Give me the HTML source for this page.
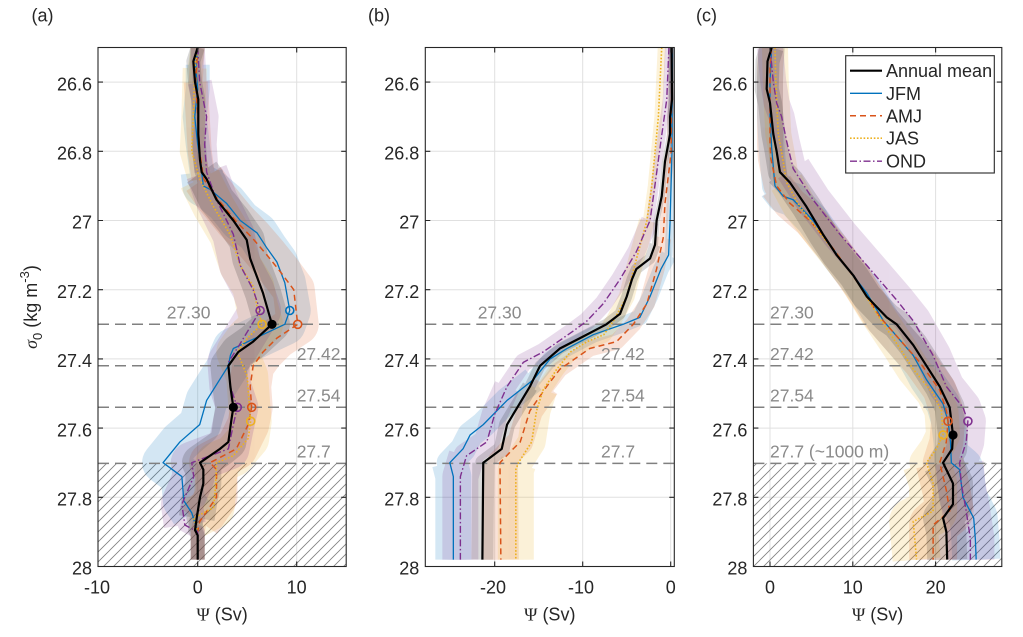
<!DOCTYPE html>
<html><head><meta charset="utf-8"><style>
html,body{margin:0;padding:0;background:#fff;}
svg{display:block;}
.ns{vector-effect:non-scaling-stroke;fill:none;stroke-linejoin:round;}
text{font-family:"Liberation Sans",Arial,sans-serif;fill:#262626;}
</style></head><body>
<svg width="1023" height="637" viewBox="0 0 1023 637" xmlns="http://www.w3.org/2000/svg">
<defs>
<pattern id="hatch" patternUnits="userSpaceOnUse" width="10" height="10">
<path d="M0,10 L10,0 M-2,2 L2,-2 M8,12 L12,8" stroke="#808080" stroke-width="0.8"/>
</pattern>
<clipPath id="ca"><rect x="98" y="47.5" width="248.2" height="519"/></clipPath>
<clipPath id="cb"><rect x="425.3" y="47.5" width="249" height="519"/></clipPath>
<clipPath id="cc"><rect x="753.4" y="47.5" width="248.4" height="519"/></clipPath>
</defs>
<rect width="1023" height="637" fill="#fff"/>

<!-- GRID -->
<g stroke="#e0e0e0" stroke-width="1">
<path d="M98,82.1H346.2M98,151.3H346.2M98,220.5H346.2M98,289.7H346.2M98,358.9H346.2M98,428.1H346.2M98,497.3H346.2M197.7,47.5V566.5M296.7,47.5V566.5"/>
<path d="M425.3,82.1H674.3M425.3,151.3H674.3M425.3,220.5H674.3M425.3,289.7H674.3M425.3,358.9H674.3M425.3,428.1H674.3M425.3,497.3H674.3M494.7,47.5V566.5M582.7,47.5V566.5M670.7,47.5V566.5"/>
<path d="M753.4,82.1H1001.8M753.4,151.3H1001.8M753.4,220.5H1001.8M753.4,289.7H1001.8M753.4,358.9H1001.8M753.4,428.1H1001.8M753.4,497.3H1001.8M770,47.5V566.5M852.8,47.5V566.5M935.6,47.5V566.5"/>
</g>

<!-- HATCH -->
<rect x="98" y="463.4" width="248.2" height="103.1" fill="url(#hatch)"/>
<rect x="753.4" y="463.4" width="248.4" height="103.1" fill="url(#hatch)"/>

<!-- ===== PANEL A ===== -->
<g clip-path="url(#ca)">
<g transform="matrix(9.9,0,0,346,197.7,-9121.5)">
<g opacity="0.17">
<path class="ns" stroke="#0072BD" stroke-width="14" d="M0,26.5 L-0.2,26.56 L0,26.62 L-0.3,26.7 L0,26.78 L0.4,26.86 L0.57,26.9 L1.24,26.91 L2.9,26.95 L4.3,27 L6,27.036 L7,27.08 L8,27.12 L8.8,27.18 L9.3,27.26 L8.8,27.3 L3.6,27.37 L3.3,27.39 L3.1,27.42 L0.9,27.52 L0.2,27.59 L-1.8,27.64 L-3.5,27.7 L-1.6,27.74 L-1.4,27.81 L-0.6,27.845 L0,27.9 L0,27.98"/>
<path class="ns" stroke="#0072BD" stroke-width="24" d="M0,26.55 L0,26.62 L-0.3,26.7 L0,26.78 L0.4,26.86"/>
<path class="ns" stroke="#0072BD" stroke-width="42" d="M0.4,26.86 L0.57,26.9 L1.24,26.91 L2.9,26.95 L4.3,27 L6,27.036 L7,27.08 L8,27.12 L8.8,27.18 L9.3,27.26 L8.8,27.3 L3.6,27.37 L3.3,27.39 L3.1,27.42 L0.9,27.52 L0.2,27.59 L-1.8,27.64 L-3.5,27.7 L-1.6,27.74 L-1.4,27.81 L-0.6,27.845"/>
</g>
<g opacity="0.17">
<path class="ns" stroke="#D95319" stroke-width="14" d="M0,26.5 L-0.2,26.6 L0,26.7 L0.2,26.8 L0.6,26.88 L1.8,26.93 L3.8,27 L5.5,27.05 L7,27.1 L8.4,27.15 L9.7,27.2 L10.1,27.3 L8,27.34 L6.6,27.38 L5.6,27.42 L5.3,27.48 L5.45,27.54 L5.1,27.59 L3.9,27.66 L1.25,27.7 L1.9,27.72 L1.9,27.8 L0.2,27.87 L0,27.9 L0,27.98"/>
<path class="ns" stroke="#D95319" stroke-width="24" d="M-0.2,26.6 L0,26.7 L0.2,26.8 L0.6,26.88"/>
<path class="ns" stroke="#D95319" stroke-width="42" d="M0.6,26.88 L1.8,26.93 L3.8,27 L5.5,27.05 L7,27.1 L8.4,27.15 L9.7,27.2 L10.1,27.3 L8,27.34 L6.6,27.38 L5.6,27.42 L5.3,27.48 L5.45,27.54 L5.1,27.59 L3.9,27.66 L1.25,27.7 L1.9,27.72 L1.9,27.8 L0.2,27.87"/>
</g>
<g opacity="0.17">
<path class="ns" stroke="#EDB120" stroke-width="14" d="M0,26.5 L-0.3,26.56 L-0.44,26.7 L-0.6,26.8 L0.2,26.88 L1.6,26.96 L3.26,27.04 L4.3,27.13 L5.6,27.19 L6,27.25 L6.5,27.3 L5,27.34 L4,27.38 L5,27.45 L5.2,27.53 L5.35,27.58 L5.1,27.63 L3.6,27.68 L1.9,27.7 L1.8,27.77 L1.6,27.83 L-0.4,27.86 L0,27.9 L0,27.98"/>
<path class="ns" stroke="#EDB120" stroke-width="24" d="M-0.3,26.56 L-0.44,26.7 L-0.6,26.8 L0.2,26.88"/>
<path class="ns" stroke="#EDB120" stroke-width="42" d="M0.2,26.88 L1.6,26.96 L3.26,27.04 L4.3,27.13 L5.6,27.19 L6,27.25 L6.5,27.3 L5,27.34 L4,27.38 L5,27.45 L5.2,27.53 L5.35,27.58 L5.1,27.63 L3.6,27.68 L1.9,27.7 L1.8,27.77 L1.6,27.83 L-0.4,27.86"/>
</g>
<g opacity="0.17">
<path class="ns" stroke="#7E2F8E" stroke-width="14" d="M0,26.5 L0.2,26.6 L0.9,26.7 L0.7,26.78 L0.9,26.86 L1.9,26.94 L3.6,27.04 L4.3,27.13 L5.6,27.2 L6.3,27.26 L5.9,27.28 L4.2,27.36 L3.1,27.41 L3.3,27.48 L4,27.54 L3.6,27.59 L3.1,27.66 L-0.6,27.7 L-0.4,27.74 L-1.6,27.82 L-1.3,27.88 L0,27.9 L0,27.98"/>
<path class="ns" stroke="#7E2F8E" stroke-width="24" d="M0.2,26.6 L0.9,26.7 L0.7,26.78 L0.9,26.86"/>
<path class="ns" stroke="#7E2F8E" stroke-width="42" d="M0.9,26.86 L1.9,26.94 L3.6,27.04 L4.3,27.13 L5.6,27.2 L6.3,27.26 L5.9,27.28 L4.2,27.36 L3.1,27.41 L3.3,27.48 L4,27.54 L3.6,27.59 L3.1,27.66 L-0.6,27.7 L-0.4,27.74 L-1.6,27.82 L-1.3,27.88"/>
</g>
<g opacity="0.15">
<path class="ns" stroke="#000" stroke-width="14" d="M0,26.5 L-0.44,26.54 L-0.27,26.6 L0.06,26.65 L0.06,26.75 L0.23,26.825 L0.4,26.86 L0.9,26.88 L1.9,26.94 L3.6,27 L4.95,27.056 L5.3,27.11 L5.95,27.16 L6.6,27.21 L7.3,27.28 L7.5,27.3 L5.6,27.35 L4.1,27.38 L3.1,27.42 L3.3,27.48 L3.6,27.54 L3.4,27.577 L3.1,27.64 L2.25,27.66 L0.23,27.7 L0.57,27.72 L0.57,27.76 L0.23,27.8 L-0.1,27.86 L-0.27,27.895 L0,27.91 L0,27.98"/>
<path class="ns" stroke="#000" stroke-width="36" d="M0.4,26.86 L0.9,26.88 L1.9,26.94 L3.6,27 L4.95,27.056 L5.3,27.11 L5.95,27.16 L6.6,27.21 L7.3,27.28 L7.5,27.3 L5.6,27.35 L4.1,27.38 L3.1,27.42 L3.3,27.48 L3.6,27.54 L3.4,27.577 L3.1,27.64 L2.25,27.66 L0.23,27.7 L0.57,27.72 L0.57,27.76 L0.23,27.8 L-0.1,27.86"/>
</g>
</g>
</g>

<!-- ===== PANEL B bands ===== -->
<g clip-path="url(#cb)">
<g transform="matrix(8.8,0,0,346,670.7,-9121.5)">
<g opacity="0.17">
<path class="ns" stroke="#0072BD" stroke-width="8" d="M0.2,26.5 L0.15,26.8 L-0.07,27 L-0.24,27.1 L-1.1,27.14 L-2.35,27.22 L-3.5,27.28 L-5.4,27.3 L-8.8,27.33 L-11.8,27.37 L-13.7,27.4 L-15.6,27.46 L-18.6,27.52 L-21.3,27.59 L-22.8,27.62 L-23.6,27.66 L-25.1,27.7 L-24.7,27.74 L-24.7,27.98"/>
<path class="ns" stroke="#0072BD" stroke-width="16" d="M-0.24,27.1 L-1.1,27.14 L-2.35,27.22 L-3.5,27.28 L-5.4,27.3 L-8.8,27.33 L-11.8,27.37 L-13.7,27.4 L-15.6,27.46 L-18.6,27.52 L-21.3,27.59 L-22.8,27.62 L-23.6,27.66 L-25.1,27.7 L-24.7,27.74 L-24.7,27.98"/>
<path class="ns" stroke="#0072BD" stroke-width="26" d="M-15.6,27.46 L-18.6,27.52 L-21.3,27.59 L-22.8,27.62 L-23.6,27.66 L-25.1,27.7 L-24.7,27.74 L-24.7,27.98"/>
<path class="ns" stroke="#0072BD" stroke-width="36" d="M-25.1,27.7 L-24.7,27.74 L-24.7,27.98"/>
</g>
<g opacity="0.17">
<path class="ns" stroke="#D95319" stroke-width="8" d="M0.15,26.5 L0.05,26.8 L-0.07,26.83 L-0.65,26.95 L-0.85,27.05 L-1.6,27.14 L-2.7,27.24 L-4.25,27.3 L-6.15,27.35 L-9.2,27.37 L-12.6,27.43 L-14.1,27.48 L-16,27.55 L-17.1,27.64 L-17.9,27.66 L-19.4,27.7 L-19.3,27.98"/>
<path class="ns" stroke="#D95319" stroke-width="16" d="M-0.85,27.05 L-1.6,27.14 L-2.7,27.24 L-4.25,27.3 L-6.15,27.35 L-9.2,27.37 L-12.6,27.43 L-14.1,27.48 L-16,27.55 L-17.1,27.64 L-17.9,27.66 L-19.4,27.7 L-19.3,27.98"/>
<path class="ns" stroke="#D95319" stroke-width="26" d="M-14.1,27.48 L-16,27.55 L-17.1,27.64 L-17.9,27.66 L-19.4,27.7 L-19.3,27.98"/>
<path class="ns" stroke="#D95319" stroke-width="36" d="M-19.4,27.7 L-19.3,27.98"/>
</g>
<g opacity="0.17">
<path class="ns" stroke="#EDB120" stroke-width="8" d="M-1.02,26.5 L-1.4,26.7 L-2.15,26.9 L-2.7,27 L-4.2,27.14 L-5,27.22 L-6.5,27.29 L-7.6,27.33 L-9.5,27.35 L-11.4,27.38 L-12.95,27.43 L-14.5,27.49 L-15.25,27.55 L-15.8,27.64 L-17.3,27.7 L-17.6,27.72 L-17.6,27.98"/>
<path class="ns" stroke="#EDB120" stroke-width="16" d="M-2.7,27 L-4.2,27.14 L-5,27.22 L-6.5,27.29 L-7.6,27.33 L-9.5,27.35 L-11.4,27.38 L-12.95,27.43 L-14.5,27.49 L-15.25,27.55 L-15.8,27.64 L-17.3,27.7 L-17.6,27.72 L-17.6,27.98"/>
<path class="ns" stroke="#EDB120" stroke-width="28" d="M-14.5,27.49 L-15.25,27.55 L-15.8,27.64 L-17.3,27.7 L-17.6,27.72 L-17.6,27.98"/>
<path class="ns" stroke="#EDB120" stroke-width="36" d="M-17.3,27.7 L-17.6,27.72 L-17.6,27.98"/>
</g>
<g opacity="0.17">
<path class="ns" stroke="#7E2F8E" stroke-width="8" d="M-0.2,26.5 L-0.45,26.65 L-1,26.75 L-1.8,26.9 L-2.35,27 L-3.9,27.09 L-5.76,27.17 L-7.65,27.24 L-9.5,27.29 L-11.1,27.32 L-14.5,27.38 L-16.75,27.41 L-18.6,27.48 L-20,27.56 L-20.9,27.64 L-23.2,27.68 L-23.9,27.74 L-23.9,27.98"/>
<path class="ns" stroke="#7E2F8E" stroke-width="18" d="M-2.35,27 L-3.9,27.09 L-5.76,27.17 L-7.65,27.24 L-9.5,27.29 L-11.1,27.32 L-14.5,27.38 L-16.75,27.41 L-18.6,27.48 L-20,27.56 L-20.9,27.64 L-23.2,27.68 L-23.9,27.74 L-23.9,27.98"/>
<path class="ns" stroke="#7E2F8E" stroke-width="26" d="M-18.6,27.48 L-20,27.56 L-20.9,27.64 L-23.2,27.68 L-23.9,27.74 L-23.9,27.98"/>
<path class="ns" stroke="#7E2F8E" stroke-width="36" d="M-23.2,27.68 L-23.9,27.74 L-23.9,27.98"/>
</g>
<g opacity="0.15">
<path class="ns" stroke="#000" stroke-width="6" d="M0.1,26.5 L0.15,26.65 L-0.07,26.7 L-0.07,26.75 L-0.65,26.83 L-1.02,26.93 L-1.6,27 L-1.78,27.07 L-2.35,27.11 L-3.9,27.14 L-4.4,27.17 L-5,27.22 L-5.76,27.27 L-7.3,27.3 L-10.3,27.34 L-12.6,27.37 L-14.85,27.42 L-16,27.48 L-17.9,27.56 L-18.6,27.59 L-19.2,27.66 L-21.3,27.7 L-21.4,27.98"/>
<path class="ns" stroke="#000" stroke-width="11" d="M-1.78,27.07 L-2.35,27.11 L-3.9,27.14 L-4.4,27.17 L-5,27.22 L-5.76,27.27 L-7.3,27.3 L-10.3,27.34 L-12.6,27.37 L-14.85,27.42 L-16,27.48 L-17.9,27.56 L-18.6,27.59 L-19.2,27.66 L-21.3,27.7 L-21.4,27.98"/>
<path class="ns" stroke="#000" stroke-width="16" d="M-16,27.48 L-17.9,27.56 L-18.6,27.59 L-19.2,27.66 L-21.3,27.7 L-21.4,27.98"/>
<path class="ns" stroke="#000" stroke-width="22" d="M-21.3,27.7 L-21.4,27.98"/>
</g>
</g>
</g>

<!-- ===== PANEL C bands ===== -->
<g clip-path="url(#cc)">
<g transform="matrix(8.28,0,0,346,770,-9121.5)">
<g opacity="0.17">
<path class="ns" stroke="#0072BD" stroke-width="26" d="M0.2,26.5 L0,26.6 L0,26.7 L0.2,26.79 L0.6,26.9 L1.6,26.93 L2.8,26.94 L5.2,27 L8.45,27.11 L11.7,27.21 L13.7,27.29 L17.3,27.39 L18.9,27.46 L20.9,27.53 L21.5,27.58 L21.8,27.64 L21.9,27.7 L22.9,27.72 L23.3,27.8 L24.6,27.86 L24.8,27.92 L24.9,27.98"/>
<path class="ns" stroke="#0072BD" stroke-width="34" d="M0.6,26.9 L1.6,26.93 L2.8,26.94 L5.2,27 L8.45,27.11 L11.7,27.21 L13.7,27.29 L17.3,27.39 L18.9,27.46 L20.9,27.53 L21.5,27.58 L21.8,27.64 L21.9,27.7 L22.9,27.72 L23.3,27.8 L24.6,27.86 L24.8,27.92 L24.9,27.98"/>
<path class="ns" stroke="#0072BD" stroke-width="48" d="M21.9,27.7 L22.9,27.72 L23.3,27.8 L24.6,27.86 L24.8,27.92 L24.9,27.98"/>
</g>
<g opacity="0.17">
<path class="ns" stroke="#D95319" stroke-width="26" d="M0.2,26.5 L0,26.56 L0,26.78 L0.1,26.82 L0.8,26.9 L2.4,26.95 L4.8,27 L7.6,27.08 L10.9,27.19 L13.3,27.28 L18.1,27.41 L20.5,27.49 L21.3,27.55 L21.5,27.58 L21.3,27.64 L20.5,27.7 L21.3,27.78 L21.7,27.84 L19.7,27.88 L19.7,27.98"/>
<path class="ns" stroke="#D95319" stroke-width="34" d="M0.8,26.9 L2.4,26.95 L4.8,27 L7.6,27.08 L10.9,27.19 L13.3,27.28 L18.1,27.41 L20.5,27.49 L21.3,27.55 L21.5,27.58 L21.3,27.64 L20.5,27.7 L21.3,27.78 L21.7,27.84 L19.7,27.88 L19.7,27.98"/>
<path class="ns" stroke="#D95319" stroke-width="48" d="M20.5,27.7 L21.3,27.78 L21.7,27.84 L19.7,27.88 L19.7,27.98"/>
</g>
<g opacity="0.17">
<path class="ns" stroke="#EDB120" stroke-width="26" d="M0.6,26.5 L0.7,26.6 L1,26.75 L1.6,26.83 L2,26.89 L3.6,26.96 L6.8,27.06 L10.1,27.16 L12.9,27.27 L15.7,27.37 L17.3,27.43 L19.7,27.5 L20.7,27.55 L20.9,27.62 L20.1,27.66 L18.9,27.7 L19.7,27.76 L19.7,27.84 L17.3,27.87 L17.7,27.98"/>
<path class="ns" stroke="#EDB120" stroke-width="34" d="M2,26.89 L3.6,26.96 L6.8,27.06 L10.1,27.16 L12.9,27.27 L15.7,27.37 L17.3,27.43 L19.7,27.5 L20.7,27.55 L20.9,27.62 L20.1,27.66 L18.9,27.7 L19.7,27.76 L19.7,27.84 L17.3,27.87 L17.7,27.98"/>
<path class="ns" stroke="#EDB120" stroke-width="48" d="M18.9,27.7 L19.7,27.76 L19.7,27.84 L17.3,27.87 L17.7,27.98"/>
</g>
<g opacity="0.17">
<path class="ns" stroke="#7E2F8E" stroke-width="26" d="M0,26.5 L0.4,26.6 L0.8,26.66 L1.4,26.7 L2,26.77 L2.8,26.85 L5.2,26.94 L8.45,27.04 L11.7,27.13 L15.3,27.23 L17.3,27.29 L19.7,27.39 L21.3,27.48 L23.3,27.54 L23.9,27.58 L23.7,27.64 L22.9,27.7 L23.1,27.76 L23.7,27.84 L24.2,27.92 L24.2,27.98"/>
<path class="ns" stroke="#7E2F8E" stroke-width="36" d="M2.8,26.85 L5.2,26.94 L8.45,27.04 L11.7,27.13 L15.3,27.23 L17.3,27.29 L19.7,27.39 L21.3,27.48 L23.3,27.54 L23.9,27.58 L23.7,27.64 L22.9,27.7 L23.1,27.76 L23.7,27.84 L24.2,27.92 L24.2,27.98"/>
<path class="ns" stroke="#7E2F8E" stroke-width="48" d="M22.9,27.7 L23.1,27.76 L23.7,27.84 L24.2,27.92 L24.2,27.98"/>
</g>
<g opacity="0.15">
<path class="ns" stroke="#000" stroke-width="24" d="M0.2,26.5 L-0.3,26.54 L-0.4,26.62 L0,26.66 L0.4,26.75 L0.8,26.8 L1.2,26.86 L2.4,26.89 L4.4,26.96 L6.4,27.04 L8.05,27.1 L10.1,27.16 L11.7,27.22 L14.1,27.28 L15.3,27.3 L17.3,27.36 L18.9,27.42 L20.5,27.48 L21.7,27.54 L22.1,27.62 L22,27.66 L20.9,27.7 L21.3,27.72 L22.1,27.76 L22.1,27.82 L20.9,27.86 L21.3,27.9 L21.4,27.98"/>
<path class="ns" stroke="#000" stroke-width="30" d="M1.2,26.86 L2.4,26.89 L4.4,26.96 L6.4,27.04 L8.05,27.1 L10.1,27.16 L11.7,27.22 L14.1,27.28 L15.3,27.3 L17.3,27.36 L18.9,27.42 L20.5,27.48 L21.7,27.54 L22.1,27.62 L22,27.66 L20.9,27.7 L21.3,27.72 L22.1,27.76 L22.1,27.82 L20.9,27.86 L21.3,27.9 L21.4,27.98"/>
<path class="ns" stroke="#000" stroke-width="40" d="M20.9,27.7 L21.3,27.72 L22.1,27.76 L22.1,27.82 L20.9,27.86 L21.3,27.9 L21.4,27.98"/>
</g>
</g>
</g>

<!-- DASHED REFERENCE LINES -->
<g stroke="#808080" stroke-width="1.5" stroke-dasharray="11 6" fill="none">
<path d="M98,324.3H346.2M98,365.8H346.2M98,407.3H346.2M98,463.4H346.2"/>
<path d="M425.3,324.3H674.3M425.3,365.8H674.3M425.3,407.3H674.3M425.3,463.4H674.3"/>
<path d="M753.4,324.3H1001.8M753.4,365.8H1001.8M753.4,407.3H1001.8M753.4,463.4H1001.8"/>
</g>
<g font-size="17.5">
<text x="166.7" y="318.3" style="fill:#8a8a8a">27.30</text>
<text x="296.7" y="359.8" style="fill:#8a8a8a">27.42</text>
<text x="296.7" y="401.3" style="fill:#8a8a8a">27.54</text>
<text x="296.7" y="457.4" style="fill:#8a8a8a">27.7</text>
<text x="477.7" y="318.3" style="fill:#8a8a8a">27.30</text>
<text x="601" y="359.8" style="fill:#8a8a8a">27.42</text>
<text x="601" y="401.3" style="fill:#8a8a8a">27.54</text>
<text x="601" y="457.4" style="fill:#8a8a8a">27.7</text>
<text x="770" y="318.3" style="fill:#8a8a8a">27.30</text>
<text x="770" y="359.8" style="fill:#8a8a8a">27.42</text>
<text x="770" y="401.3" style="fill:#8a8a8a">27.54</text>
<text x="770" y="457.4" style="fill:#8a8a8a">27.7 (~1000 m)</text>
</g>

<!-- SERIES LINES A -->
<g clip-path="url(#ca)">
<g transform="matrix(9.9,0,0,346,197.7,-9121.5)">
<path class="ns" stroke="#0072BD" stroke-width="1.3" d="M0,26.5 L-0.2,26.56 L0,26.62 L-0.3,26.7 L0,26.78 L0.4,26.86 L0.57,26.9 L1.24,26.91 L2.9,26.95 L4.3,27 L6,27.036 L7,27.08 L8,27.12 L8.8,27.18 L9.3,27.26 L8.8,27.3 L3.6,27.37 L3.3,27.39 L3.1,27.42 L0.9,27.52 L0.2,27.59 L-1.8,27.64 L-3.5,27.7 L-1.6,27.74 L-1.4,27.81 L-0.6,27.845 L0,27.9 L0,27.98"/>
<path class="ns" stroke="#D95319" stroke-width="1.5" stroke-dasharray="6 4" d="M0,26.5 L-0.2,26.6 L0,26.7 L0.2,26.8 L0.6,26.88 L1.8,26.93 L3.8,27 L5.5,27.05 L7,27.1 L8.4,27.15 L9.7,27.2 L10.1,27.3 L8,27.34 L6.6,27.38 L5.6,27.42 L5.3,27.48 L5.45,27.54 L5.1,27.59 L3.9,27.66 L1.25,27.7 L1.9,27.72 L1.9,27.8 L0.2,27.87 L0,27.9 L0,27.98"/>
<path class="ns" stroke="#EDB120" stroke-width="1.6" stroke-dasharray="1.6 1.8" d="M0,26.5 L-0.3,26.56 L-0.44,26.7 L-0.6,26.8 L0.2,26.88 L1.6,26.96 L3.26,27.04 L4.3,27.13 L5.6,27.19 L6,27.25 L6.5,27.3 L5,27.34 L4,27.38 L5,27.45 L5.2,27.53 L5.35,27.58 L5.1,27.63 L3.6,27.68 L1.9,27.7 L1.8,27.77 L1.6,27.83 L-0.4,27.86 L0,27.9 L0,27.98"/>
<path class="ns" stroke="#7E2F8E" stroke-width="1.4" stroke-dasharray="7 2.5 1.5 2.5" d="M0,26.5 L0.2,26.6 L0.9,26.7 L0.7,26.78 L0.9,26.86 L1.9,26.94 L3.6,27.04 L4.3,27.13 L5.6,27.2 L6.3,27.26 L5.9,27.28 L4.2,27.36 L3.1,27.41 L3.3,27.48 L4,27.54 L3.6,27.59 L3.1,27.66 L-0.6,27.7 L-0.4,27.74 L-1.6,27.82 L-1.3,27.88 L0,27.9 L0,27.98"/>
<path class="ns" stroke="#000" stroke-width="2.2" d="M0,26.5 L-0.44,26.54 L-0.27,26.6 L0.06,26.65 L0.06,26.75 L0.23,26.825 L0.4,26.86 L0.9,26.88 L1.9,26.94 L3.6,27 L4.95,27.056 L5.3,27.11 L5.95,27.16 L6.6,27.21 L7.3,27.28 L7.5,27.3 L5.6,27.35 L4.1,27.38 L3.1,27.42 L3.3,27.48 L3.6,27.54 L3.4,27.577 L3.1,27.64 L2.25,27.66 L0.23,27.7 L0.57,27.72 L0.57,27.76 L0.23,27.8 L-0.1,27.86 L-0.27,27.895 L0,27.91 L0,27.98"/>
</g>
</g>

<!-- SERIES LINES B -->
<g clip-path="url(#cb)">
<g transform="matrix(8.8,0,0,346,670.7,-9121.5)">
<path class="ns" stroke="#0072BD" stroke-width="1.3" d="M0.2,26.5 L0.15,26.8 L-0.07,27 L-0.24,27.1 L-1.1,27.14 L-2.35,27.22 L-3.5,27.28 L-5.4,27.3 L-8.8,27.33 L-11.8,27.37 L-13.7,27.4 L-15.6,27.46 L-18.6,27.52 L-21.3,27.59 L-22.8,27.62 L-23.6,27.66 L-25.1,27.7 L-24.7,27.74 L-24.7,27.98"/>
<path class="ns" stroke="#D95319" stroke-width="1.5" stroke-dasharray="6 4" d="M0.15,26.5 L0.05,26.8 L-0.07,26.83 L-0.65,26.95 L-0.85,27.05 L-1.6,27.14 L-2.7,27.24 L-4.25,27.3 L-6.15,27.35 L-9.2,27.37 L-12.6,27.43 L-14.1,27.48 L-16,27.55 L-17.1,27.64 L-17.9,27.66 L-19.4,27.7 L-19.3,27.98"/>
<path class="ns" stroke="#EDB120" stroke-width="1.6" stroke-dasharray="1.6 1.8" d="M-1.02,26.5 L-1.4,26.7 L-2.15,26.9 L-2.7,27 L-4.2,27.14 L-5,27.22 L-6.5,27.29 L-7.6,27.33 L-9.5,27.35 L-11.4,27.38 L-12.95,27.43 L-14.5,27.49 L-15.25,27.55 L-15.8,27.64 L-17.3,27.7 L-17.6,27.72 L-17.6,27.98"/>
<path class="ns" stroke="#7E2F8E" stroke-width="1.4" stroke-dasharray="7 2.5 1.5 2.5" d="M-0.2,26.5 L-0.45,26.65 L-1,26.75 L-1.8,26.9 L-2.35,27 L-3.9,27.09 L-5.76,27.17 L-7.65,27.24 L-9.5,27.29 L-11.1,27.32 L-14.5,27.38 L-16.75,27.41 L-18.6,27.48 L-20,27.56 L-20.9,27.64 L-23.2,27.68 L-23.9,27.74 L-23.9,27.98"/>
<path class="ns" stroke="#000" stroke-width="2.2" d="M0.1,26.5 L0.15,26.65 L-0.07,26.7 L-0.07,26.75 L-0.65,26.83 L-1.02,26.93 L-1.6,27 L-1.78,27.07 L-2.35,27.11 L-3.9,27.14 L-4.4,27.17 L-5,27.22 L-5.76,27.27 L-7.3,27.3 L-10.3,27.34 L-12.6,27.37 L-14.85,27.42 L-16,27.48 L-17.9,27.56 L-18.6,27.59 L-19.2,27.66 L-21.3,27.7 L-21.4,27.98"/>
</g>
</g>

<!-- SERIES LINES C -->
<g clip-path="url(#cc)">
<g transform="matrix(8.28,0,0,346,770,-9121.5)">
<path class="ns" stroke="#0072BD" stroke-width="1.3" d="M0.2,26.5 L0,26.6 L0,26.7 L0.2,26.79 L0.6,26.9 L1.6,26.93 L2.8,26.94 L5.2,27 L8.45,27.11 L11.7,27.21 L13.7,27.29 L17.3,27.39 L18.9,27.46 L20.9,27.53 L21.5,27.58 L21.8,27.64 L21.9,27.7 L22.9,27.72 L23.3,27.8 L24.6,27.86 L24.8,27.92 L24.9,27.98"/>
<path class="ns" stroke="#D95319" stroke-width="1.5" stroke-dasharray="6 4" d="M0.2,26.5 L0,26.56 L0,26.78 L0.1,26.82 L0.8,26.9 L2.4,26.95 L4.8,27 L7.6,27.08 L10.9,27.19 L13.3,27.28 L18.1,27.41 L20.5,27.49 L21.3,27.55 L21.5,27.58 L21.3,27.64 L20.5,27.7 L21.3,27.78 L21.7,27.84 L19.7,27.88 L19.7,27.98"/>
<path class="ns" stroke="#EDB120" stroke-width="1.6" stroke-dasharray="1.6 1.8" d="M0.6,26.5 L0.7,26.6 L1,26.75 L1.6,26.83 L2,26.89 L3.6,26.96 L6.8,27.06 L10.1,27.16 L12.9,27.27 L15.7,27.37 L17.3,27.43 L19.7,27.5 L20.7,27.55 L20.9,27.62 L20.1,27.66 L18.9,27.7 L19.7,27.76 L19.7,27.84 L17.3,27.87 L17.7,27.98"/>
<path class="ns" stroke="#7E2F8E" stroke-width="1.4" stroke-dasharray="7 2.5 1.5 2.5" d="M0,26.5 L0.4,26.6 L0.8,26.66 L1.4,26.7 L2,26.77 L2.8,26.85 L5.2,26.94 L8.45,27.04 L11.7,27.13 L15.3,27.23 L17.3,27.29 L19.7,27.39 L21.3,27.48 L23.3,27.54 L23.9,27.58 L23.7,27.64 L22.9,27.7 L23.1,27.76 L23.7,27.84 L24.2,27.92 L24.2,27.98"/>
<path class="ns" stroke="#000" stroke-width="2.2" d="M0.2,26.5 L-0.3,26.54 L-0.4,26.62 L0,26.66 L0.4,26.75 L0.8,26.8 L1.2,26.86 L2.4,26.89 L4.4,26.96 L6.4,27.04 L8.05,27.1 L10.1,27.16 L11.7,27.22 L14.1,27.28 L15.3,27.3 L17.3,27.36 L18.9,27.42 L20.5,27.48 L21.7,27.54 L22.1,27.62 L22,27.66 L20.9,27.7 L21.3,27.72 L22.1,27.76 L22.1,27.82 L20.9,27.86 L21.3,27.9 L21.4,27.98"/>
</g>
</g>

<!-- MARKERS -->
<g fill="none" stroke-width="1.6">
<circle cx="289.8" cy="310.5" r="4" stroke="#0072BD"/>
<circle cx="297.7" cy="324.3" r="4" stroke="#D95319"/>
<circle cx="262.1" cy="324.3" r="4" stroke="#EDB120"/>
<circle cx="260.1" cy="310.5" r="4" stroke="#7E2F8E"/>
<circle cx="237.3" cy="407.3" r="4" stroke="#7E2F8E"/>
<circle cx="251.7" cy="407.3" r="4" stroke="#D95319"/>
<circle cx="250.7" cy="421.2" r="4" stroke="#EDB120"/>
<circle cx="948" cy="421.2" r="4" stroke="#D95319"/>
<circle cx="967.9" cy="421.2" r="4" stroke="#7E2F8E"/>
<circle cx="943.1" cy="435" r="4" stroke="#EDB120"/>
</g>
<g fill="#000">
<circle cx="272" cy="324.3" r="4.6"/>
<circle cx="233.3" cy="407.3" r="4.6"/>
<circle cx="953" cy="435" r="4.6"/>
</g>

<!-- AXES BOXES & TICKS -->
<g stroke="#262626" stroke-width="1.1" fill="none">
<rect x="98" y="47.5" width="248.2" height="519"/>
<rect x="425.3" y="47.5" width="249" height="519"/>
<rect x="753.4" y="47.5" width="248.4" height="519"/>
<path d="M98,82.1h5M98,151.3h5M98,220.5h5M98,289.7h5M98,358.9h5M98,428.1h5M98,497.3h5
M346.2,82.1h-5M346.2,151.3h-5M346.2,220.5h-5M346.2,289.7h-5M346.2,358.9h-5M346.2,428.1h-5M346.2,497.3h-5
M197.7,566.5v-5M296.7,566.5v-5M197.7,47.5v5M296.7,47.5v5"/>
<path d="M425.3,82.1h5M425.3,151.3h5M425.3,220.5h5M425.3,289.7h5M425.3,358.9h5M425.3,428.1h5M425.3,497.3h5
M674.3,82.1h-5M674.3,151.3h-5M674.3,220.5h-5M674.3,289.7h-5M674.3,358.9h-5M674.3,428.1h-5M674.3,497.3h-5
M494.7,566.5v-5M582.7,566.5v-5M670.7,566.5v-5M494.7,47.5v5M582.7,47.5v5M670.7,47.5v5"/>
<path d="M753.4,82.1h5M753.4,151.3h5M753.4,220.5h5M753.4,289.7h5M753.4,358.9h5M753.4,428.1h5M753.4,497.3h5
M1001.8,82.1h-5M1001.8,151.3h-5M1001.8,220.5h-5M1001.8,289.7h-5M1001.8,358.9h-5M1001.8,428.1h-5M1001.8,497.3h-5
M770,566.5v-5M852.8,566.5v-5M935.6,566.5v-5M770,47.5v5M852.8,47.5v5M935.6,47.5v5"/>
</g>

<!-- TICK LABELS -->
<g font-size="18" text-anchor="end">
<text x="92" y="90.3">26.6</text><text x="92" y="159.5">26.8</text><text x="92" y="228.7">27</text><text x="92" y="297.9">27.2</text><text x="92" y="367.1">27.4</text><text x="92" y="436.3">27.6</text><text x="92" y="505.5">27.8</text><text x="92" y="574.7">28</text>
<text x="419.3" y="90.3">26.6</text><text x="419.3" y="159.5">26.8</text><text x="419.3" y="228.7">27</text><text x="419.3" y="297.9">27.2</text><text x="419.3" y="367.1">27.4</text><text x="419.3" y="436.3">27.6</text><text x="419.3" y="505.5">27.8</text><text x="419.3" y="574.7">28</text>
<text x="747.4" y="90.3">26.6</text><text x="747.4" y="159.5">26.8</text><text x="747.4" y="228.7">27</text><text x="747.4" y="297.9">27.2</text><text x="747.4" y="367.1">27.4</text><text x="747.4" y="436.3">27.6</text><text x="747.4" y="505.5">27.8</text><text x="747.4" y="574.7">28</text>
</g>
<g font-size="18" text-anchor="middle">
<text x="97" y="593.5">-10</text><text x="197.7" y="593.5">0</text><text x="296.7" y="593.5">10</text>
<text x="493" y="593.5">-20</text><text x="581" y="593.5">-10</text><text x="670.7" y="593.5">0</text>
<text x="770" y="593.5">0</text><text x="852.8" y="593.5">10</text><text x="935.6" y="593.5">20</text>
<text x="222.1" y="620.5"><tspan font-family="Liberation Serif, serif">Ψ</tspan> (Sv)</text>
<text x="549.8" y="620.5"><tspan font-family="Liberation Serif, serif">Ψ</tspan> (Sv)</text>
<text x="877.6" y="620.5"><tspan font-family="Liberation Serif, serif">Ψ</tspan> (Sv)</text>
</g>
<text transform="translate(37,307) rotate(-90)" text-anchor="middle" font-size="18"><tspan font-family="Liberation Serif, serif" font-style="italic">σ</tspan><tspan font-size="13" dy="5">0</tspan><tspan dy="-5"> (kg m</tspan><tspan font-size="13" dy="-8">-3</tspan><tspan dy="8">)</tspan></text>

<!-- PANEL LETTERS -->
<g font-size="18">
<text x="31.5" y="21.5">(a)</text>
<text x="368" y="21.5">(b)</text>
<text x="696" y="21.5">(c)</text>
</g>

<!-- LEGEND -->
<rect x="845.7" y="55.7" width="148.6" height="117.3" fill="#fff" stroke="#262626" stroke-width="1.1"/>
<g fill="none">
<path d="M850,70.7H882" stroke="#000" stroke-width="2.2"/>
<path d="M850,93.3H882" stroke="#0072BD" stroke-width="1.3"/>
<path d="M850,115.8H882" stroke="#D95319" stroke-width="1.5" stroke-dasharray="6 4"/>
<path d="M850,138.2H882" stroke="#EDB120" stroke-width="1.6" stroke-dasharray="1.6 1.8"/>
<path d="M850,161.2H882" stroke="#7E2F8E" stroke-width="1.4" stroke-dasharray="7 2.5 1.5 2.5"/>
</g>
<g font-size="18">
<text x="886" y="77.2">Annual mean</text>
<text x="886" y="99.8">JFM</text>
<text x="886" y="122.3">AMJ</text>
<text x="886" y="144.7">JAS</text>
<text x="886" y="167.7">OND</text>
</g>
</svg>
</body></html>
